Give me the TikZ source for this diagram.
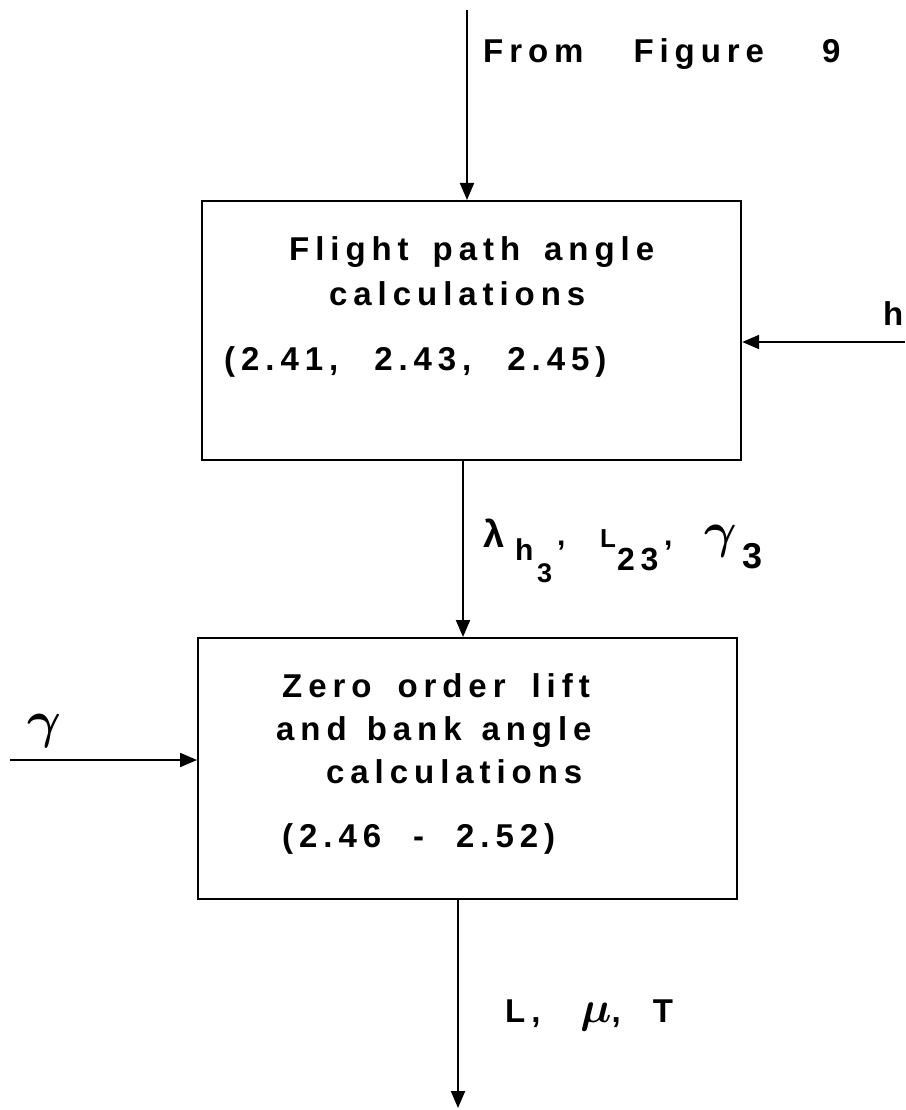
\documentclass[tikz,border=0pt]{standalone}
\usepackage{fix-cm}
\usepackage{fontspec}
\setmainfont{Liberation Sans}[LetterSpace=18]
\usetikzlibrary{arrows.meta}
\newcommand{\wgap}[1]{\hspace*{#1pt}}
\tikzset{
  blockbox/.style={draw, line width=2.2pt, anchor=north west, inner sep=0pt},
  txt/.style={anchor=base west, inner sep=0pt, font=\fontsize{33}{36}\selectfont\bfseries},
  lbl/.style={anchor=base west, inner sep=0pt},
  arr/.style={line width=2pt, -{Triangle[length=17pt,width=14pt]}}
}
\begin{document}
\begin{tikzpicture}[x=1pt,y=-1pt]
\useasboundingbox (0,0) rectangle (905,1110);
% boxes
\node[blockbox, minimum width=539pt, minimum height=259pt] (b1) at (201,200) {};
\node[blockbox, minimum width=539pt, minimum height=261pt] (b2) at (197,637) {};
% box 1 text
\node[txt] (t1a) at (289,260) {Flight\wgap{24}path\wgap{24}angle};
\node[txt] (t1b) at (329,305) {calculations};
\node[txt] (t1c) at (224,370) {(2.41,\wgap{36}2.43,\wgap{36}2.45)};
% box 2 text
\node[txt] (t2a) at (282,697) {Zero\wgap{26}order\wgap{26}lift};
\node[txt] (t2b) at (276,740) {and\wgap{20}bank\wgap{20}angle};
\node[txt] (t2c) at (326,783) {calculations};
\node[txt] (t2d) at (282,847) {(2.46\wgap{32}-\wgap{32}2.52)};
% top label
\node[txt] (from) at (483,63) {From\wgap{50}Figure\wgap{58}9};
% inputs
\node[txt] (hlab) at (883,325) {h};
\node[lbl, font=\fontsize{52}{56}\selectfont\boldmath] (glab) at (27,737) {$\gamma$};
% middle label
\node[lbl, font=\fontsize{38}{40}\selectfont\bfseries] (lam) at (483,547) {λ};
\node[lbl, font=\fontsize{30}{32}\selectfont\bfseries] (lamh) at (515,560) {h};
\node[lbl, font=\fontsize{27}{30}\selectfont\bfseries] (lamt) at (537,582) {3};
\node[lbl, font=\fontsize{30}{32}\selectfont\bfseries] (c1) at (557,545) {,};
\node[lbl, font=\fontsize{26}{28}\selectfont\bfseries] (Lsm) at (600,547) {L};
\node[lbl, font=\fontsize{32}{34}\selectfont\bfseries] (Ltt) at (617,570) {23};
\node[lbl, font=\fontsize{30}{32}\selectfont\bfseries] (c2) at (664,545) {,};
\node[lbl, font=\fontsize{50}{54}\selectfont\boldmath] (gam) at (704,547) {$\gamma$};
\node[lbl, font=\fontsize{36}{38}\selectfont\bfseries] (gamt) at (742,568) {3};
% bottom label
\node[txt] (out) at (505,1022) {L,\wgap{40}{\fontsize{44}{46}\selectfont\boldmath$\mu$},\wgap{32}T};
% connectors
\coordinate (src) at (467,10);
\coordinate (hin) at (905,342);
\coordinate (gin) at (10,760);
\coordinate (mid) at (463,0);
\coordinate (end) at (458,1108);
\draw[arr] (src) -- (src |- b1.north);
\draw[arr] (hin) -- (hin -| b1.east);
\draw[arr] (mid |- b1.south) -- (mid |- b2.north);
\draw[arr] (gin) -- (gin -| b2.west);
\draw[arr] (end |- b2.south) -- (end);
\end{tikzpicture}
\end{document}
